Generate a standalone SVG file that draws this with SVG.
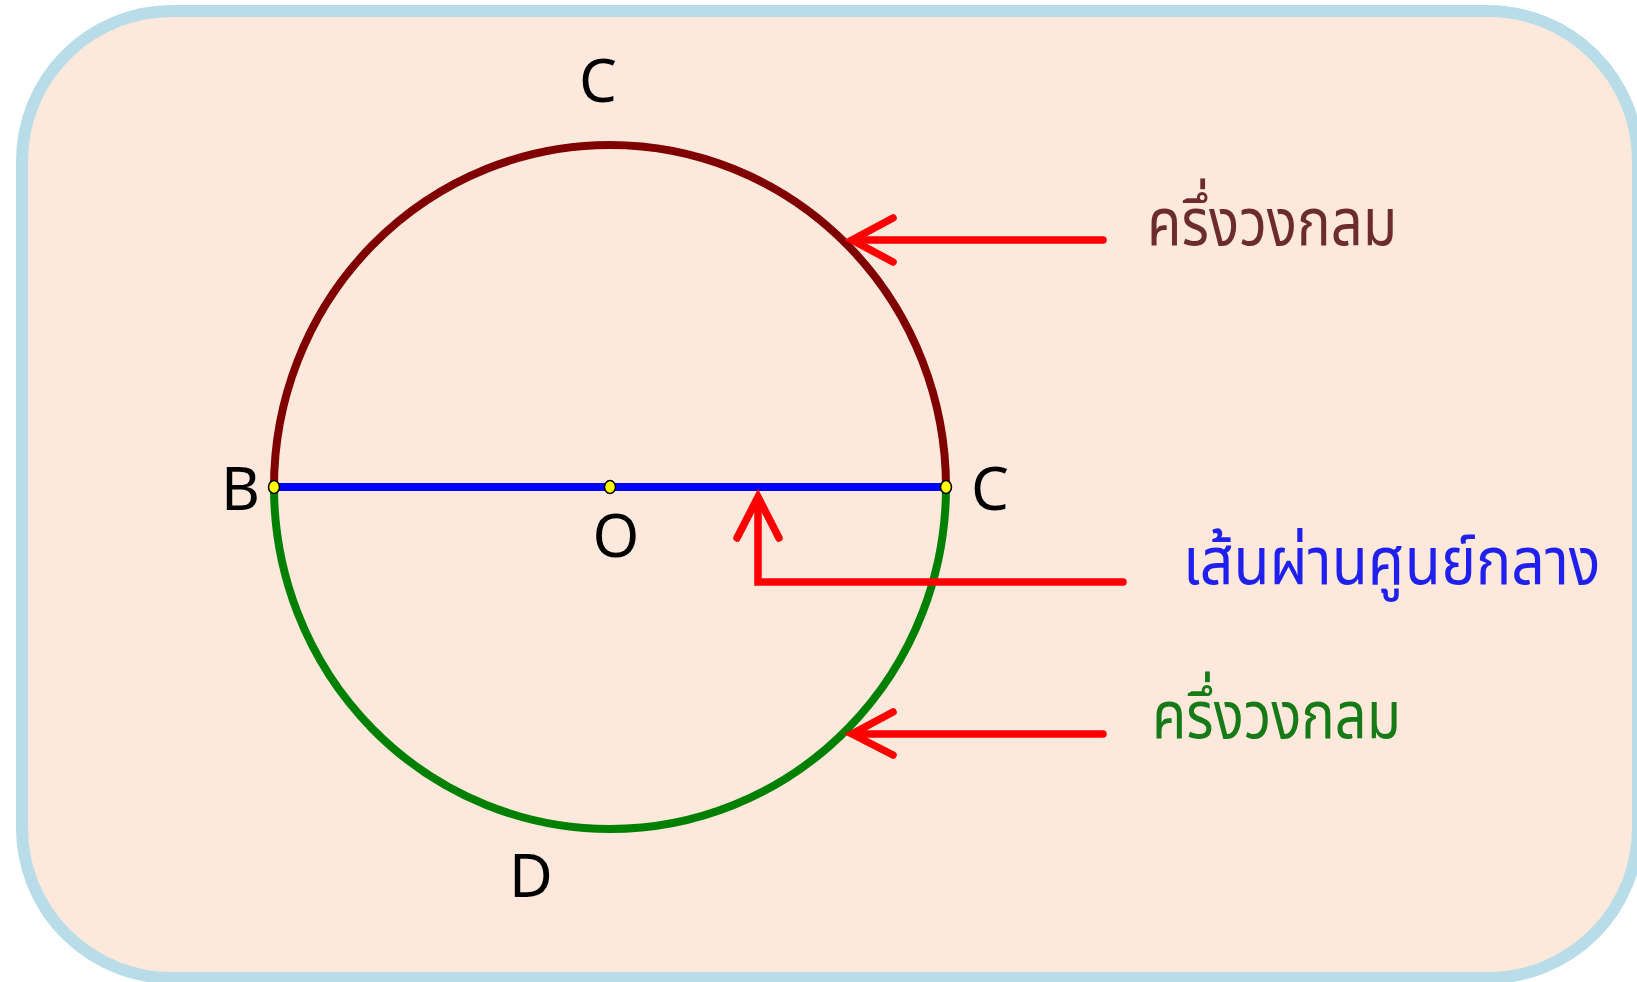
<svg xmlns="http://www.w3.org/2000/svg" width="1637" height="982" viewBox="0 0 1637 982">
<style>
.lbl{font-family:"Noto Sans","Open Sans","DejaVu Sans",sans-serif;font-size:60px;fill:#000}
.th{font-family:"Noto Sans","Noto Sans Thai","Loma","DejaVu Sans",sans-serif;font-size:66px}
.arr{fill:none;stroke:#ff0000;stroke-width:7.5;stroke-linecap:round}
.head{fill:none;stroke:#ff0000;stroke-width:7.5;stroke-linecap:round;stroke-linejoin:miter}
.pt{fill:#ffff00;stroke:#000;stroke-width:1.5}
</style>
<g id="background">
<rect x="22" y="11" width="1616" height="967" rx="150" ry="150" fill="#fde9dc" stroke="#b8dde8" stroke-width="12"/>
</g>
<g id="circle">
<path d="M274,487 A336,342 0 0 1 946,487" fill="none" stroke="#800000" stroke-width="8"/>
<path d="M274,487 A336,342 0 0 0 946,487" fill="none" stroke="#008000" stroke-width="8"/>
</g>
<g id="diameter">
<line x1="274" y1="487" x2="946" y2="487" stroke="#0000ff" stroke-width="8"/>
</g>
<g id="points">
<ellipse class="pt" cx="274" cy="487" rx="5.5" ry="6.5"/>
<ellipse class="pt" cx="610" cy="487" rx="5.5" ry="6.5"/>
<ellipse class="pt" cx="946" cy="487" rx="5.5" ry="6.5"/>
</g>
<g id="labels">
<text class="lbl" x="598" y="102" text-anchor="middle">C</text>
<text class="lbl" x="221" y="510">B</text>
<text class="lbl" x="616" y="557" text-anchor="middle">O</text>
<text class="lbl" x="971" y="510">C</text>
<text class="lbl" x="509" y="897">D</text>
</g>
<g id="connectors">
<path class="arr" d="M1103,240 L856,240"/>
<path class="head" d="M893,218 L852,240 L893,262"/>
<path class="arr" d="M1123,582 L758,582 L758,501"/>
<path class="head" d="M737,538 L758,497 L779,538"/>
<path class="arr" d="M1103,734 L856,734"/>
<path class="head" d="M893,712 L852,734 L893,755"/>
</g>
<g id="text-upper">
<text class="th" transform="translate(1147,245) scale(0.852,1)" fill="#6d2c2c">ครึ่งวงกลม</text>
</g>
<g id="text-middle">
<text class="th" transform="translate(1183,584) scale(0.893,1)" fill="#1f1fee">เส้นผ่านศูนย์กลาง</text>
</g>
<g id="text-lower">
<text class="th" transform="translate(1152,738) scale(0.848,1)" fill="#167a16">ครึ่งวงกลม</text>
</g>
</svg>
